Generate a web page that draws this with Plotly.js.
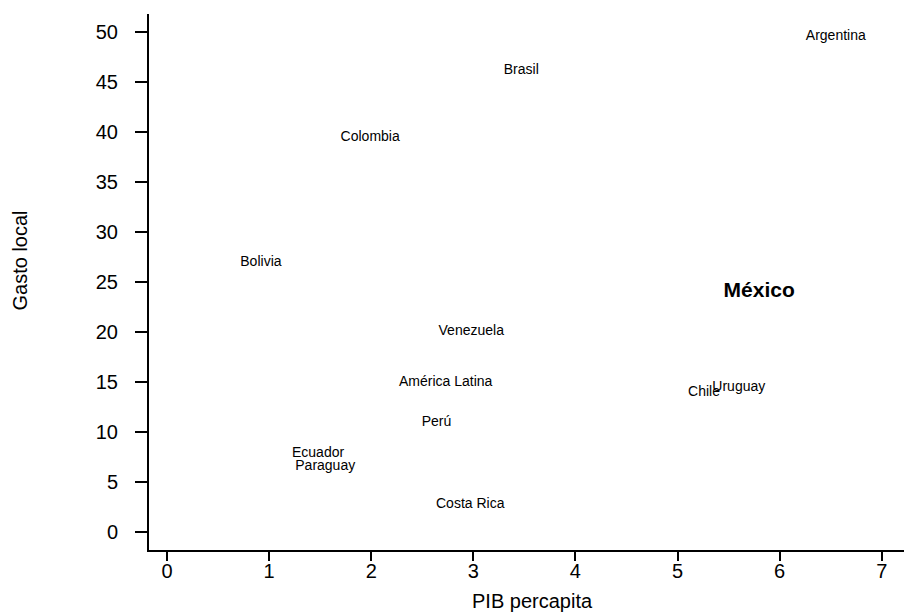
<!DOCTYPE html>
<html>
<head>
<meta charset="utf-8">
<script src="https://cdn.plot.ly/plotly-3.0.1.min.js"></script>
<style>html,body{margin:0;padding:0;background:#fff;}#chart{width:904px;height:613px;}</style>
</head>
<body>
<div id="chart"></div>
<script>
// Data
const countries = ["Argentina","Brasil","Colombia","Bolivia","Venezuela","América Latina","Chile","Uruguay","Perú","Ecuador","Paraguay","Costa Rica"];
const pibPercapita = [6.55, 3.47, 1.99, 0.92, 2.98, 2.73, 5.26, 5.60, 2.64, 1.48, 1.55, 2.97];
const gastoLocal = [49.6, 46.2, 39.5, 27.0, 20.1, 15.0, 14.0, 14.5, 11.0, 7.9, 6.6, 2.8];

const highlight = ["México"];
const highlightPib = [5.80];
const highlightGasto = [24.0];

const xTicks = [0,1,2,3,4,5,6,7];
const yTicks = [0,5,10,15,20,25,30,35,40,45,50];

const FONT = "Arial, 'Liberation Sans', sans-serif";

const traces = [
  {
    type: "scatter", mode: "text",
    x: pibPercapita, y: gastoLocal, text: countries,
    textposition: "middle center",
    textfont: {family: FONT, size: 14, color: "#000"},
    hoverinfo: "skip", showlegend: false
  },
  {
    type: "scatter", mode: "text",
    x: highlightPib, y: highlightGasto, text: highlight.map(s => "<b>" + s + "</b>"),
    textposition: "middle center",
    textfont: {family: FONT, size: 21, color: "#000"},
    hoverinfo: "skip", showlegend: false
  }
];

const layout = {
  width: 904, height: 613,
  margin: {l: 149, r: 0, t: 14, b: 63, pad: 0},
  paper_bgcolor: "#fff", plot_bgcolor: "#fff",
  font: {family: FONT, color: "#000", size: 20},
  hovermode: false,
  xaxis: {
    range: [-0.176, 7.218],
    tickvals: xTicks, ticktext: xTicks.map(String),
    showgrid: false, zeroline: false,
    showline: true, linecolor: "#000", linewidth: 2,
    ticks: "outside", ticklen: 9, tickwidth: 2, tickcolor: "#000",
    tickfont: {family: FONT, size: 20, color: "#000"},
    ticklabelstandoff: -7
  },
  yaxis: {
    range: [-1.8, 51.8],
    tickvals: yTicks, ticktext: yTicks.map(String),
    showgrid: false, zeroline: false,
    showline: true, linecolor: "#000", linewidth: 2,
    ticks: "outside", ticklen: 12, tickwidth: 2, tickcolor: "#000",
    tickfont: {family: FONT, size: 20, color: "#000"},
    ticklabelstandoff: 13
  },
  annotations: [
    {
      text: "Gasto local", textangle: -90,
      xref: "paper", yref: "paper", x: -0.1709, y: 0.540,
      xanchor: "center", yanchor: "middle", showarrow: false,
      font: {family: FONT, size: 20, color: "#000"}
    },
    {
      text: "PIB percapita",
      xref: "paper", yref: "paper", x: 0.508, y: -0.095,
      xanchor: "center", yanchor: "middle", showarrow: false,
      font: {family: FONT, size: 20, color: "#000"}
    }
  ]
};

Plotly.newPlot("chart", traces, layout, {displayModeBar: false, staticPlot: true});
</script>
</body>
</html>
